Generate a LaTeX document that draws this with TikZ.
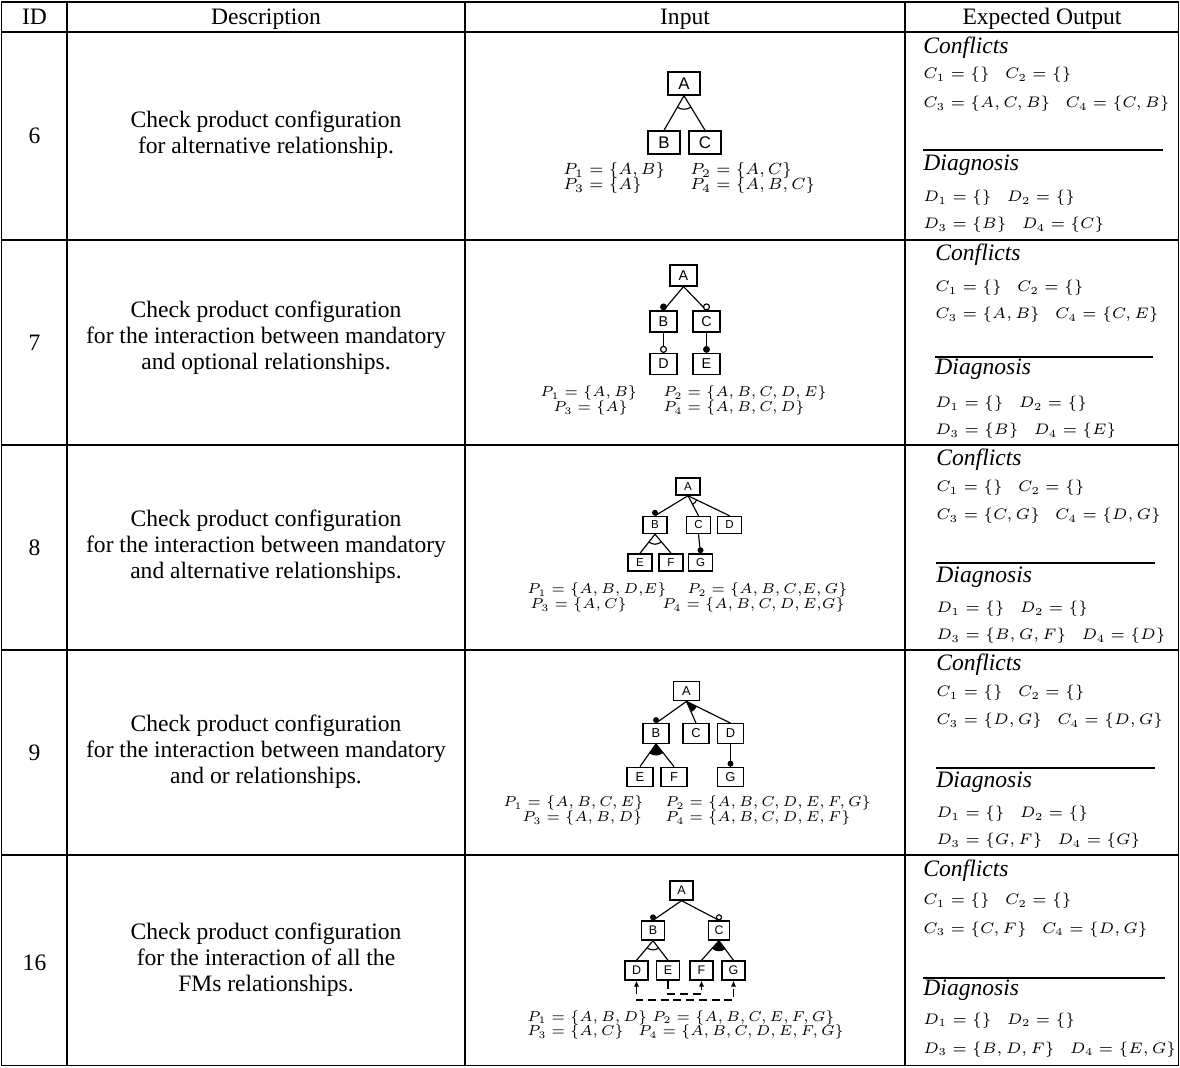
\RequirePackage{fix-cm}
\documentclass[tikz,border=0pt]{standalone}
\usepackage[no-math]{fontspec}
\setmainfont{Liberation Serif}
\setsansfont{Liberation Sans}
\usetikzlibrary{arrows.meta,calc}
\newcommand\fmmand[3]{\fill[black] ($(#1)+(0,-#2)$) circle[radius=#3];}
\newcommand\fmopt[3]{\draw[fl,fill=white] ($(#1)+(0,-#2)$) circle[radius=#3];}
\begin{document}
\begin{tikzpicture}[x=0.433pt,y=-0.433pt,
  tbl/.style={line width=0.5pt},
  hdr/.style={font=\fontsize{10.2}{12}\selectfont, anchor=base, inner sep=0pt},
  idtxt/.style={font=\fontsize{10.2}{12}\selectfont, inner sep=0pt},
  desc/.style={font=\fontsize{10.2}{11.3}\selectfont, align=center, inner sep=0pt},
  captxt/.style={font=\fontsize{10.2}{12}\selectfont\itshape, anchor=base west, inner sep=0pt},
  res/.style={font=\fontsize{6.6}{8}\selectfont, anchor=base west, inner sep=0pt},
  pset/.style={font=\fontsize{6.2}{7}\selectfont, anchor=base west, inner sep=0pt},
  psetl/.style={font=\fontsize{7}{8}\selectfont, anchor=base west, inner sep=0pt},
  rl/.style={line width=0.5pt},
  fl/.style={line width=0.5pt},
  fb/.style={draw, line width=0.6pt, inner sep=0pt, fill=white},
  fbA/.style={fb, minimum width=13.9pt, minimum height=10pt, font=\sffamily\fontsize{7.3}{8}\selectfont},
  fbB/.style={fb, minimum width=11.7pt, minimum height=9pt, font=\sffamily\fontsize{6.2}{7}\selectfont},
  fbC/.style={fb, minimum width=10.4pt, minimum height=7.4pt, font=\sffamily\fontsize{5}{6}\selectfont},
  fbD/.style={fb, minimum width=11.3pt, minimum height=8.4pt, font=\sffamily\fontsize{5.6}{6}\selectfont},
  fbE/.style={fb, minimum width=10pt, minimum height=8.2pt, font=\sffamily\fontsize{5.4}{6}\selectfont},
  dsh/.style={line width=0.5pt, dash pattern=on 3.5pt off 2pt}
]
\useasboundingbox (0,0) rectangle (1180,1068);
% ---------------- table grid
\draw[tbl] (1.5,2) rectangle (1178.5,1065.5);
\foreach \yy in {32,240,445,650,855} \draw[tbl] (1.5,\yy) -- (1178.5,\yy);
\foreach \xx in {67,465,905} \draw[tbl] (\xx,2) -- (\xx,1065.5);
% ---------------- header
\node[hdr] (hID) at (34.5,25) {ID};
\node[hdr] (hDesc) at (266,25) {Description};
\node[hdr] (hIn) at (685,25) {Input};
\node[hdr] (hOut) at (1042,25) {Expected Output};
% ---------------- IDs
\node[idtxt] (id6) at (34.5,136) {6};
\node[idtxt] (id7) at (34.5,343) {7};
\node[idtxt] (id8) at (34.5,548) {8};
\node[idtxt] (id9) at (34.5,753) {9};
\node[idtxt] (id16) at (34.5,963) {16};
% ---------------- descriptions
\node[desc] (ds6) at (266,135) {Check product configuration\\for alternative relationship.};
\node[desc] (ds7) at (266,338) {Check product configuration\\for the interaction between mandatory\\and optional relationships.};
\node[desc] (ds8) at (266,547) {Check product configuration\\for the interaction between mandatory\\and alternative relationships.};
\node[desc] (ds9) at (266,752) {Check product configuration\\for the interaction between mandatory\\and or relationships.};
\node[desc] (ds16) at (266,960) {Check product configuration\\for the interaction of all the\\FMs relationships.};
% ---------------- expected output
% row 6
\node[captxt] (cf6) at (923,54) {Conflicts};
\node[res] (c6a) at (923,79) {$C_1 = \{\}$\quad$C_2 = \{\}$};
\node[res] (c6b) at (923,108) {$C_3 = \{A, C, B\}$\quad$C_4 = \{C, B\}$};
\draw[rl] (923,150) -- (1163,150);
\node[captxt] (dg6) at (923,171) {Diagnosis};
\node[res] (d6a) at (923,202) {$D_1 = \{\}$\quad$D_2 = \{\}$};
\node[res] (d6b) at (923,229) {$D_3 = \{B\}$\quad$D_4 = \{C\}$};
% row 7
\node[captxt] (cf7) at (935,261) {Conflicts};
\node[res] (c7a) at (935,292) {$C_1 = \{\}$\quad$C_2 = \{\}$};
\node[res] (c7b) at (935,319) {$C_3 = \{A, B\}$\quad$C_4 = \{C, E\}$};
\draw[rl] (935,357) -- (1153,357);
\node[captxt] (dg7) at (935,375) {Diagnosis};
\node[res] (d7a) at (935,408) {$D_1 = \{\}$\quad$D_2 = \{\}$};
\node[res] (d7b) at (935,435) {$D_3 = \{B\}$\quad$D_4 = \{E\}$};
% row 8
\node[captxt] (cf8) at (936,466) {Conflicts};
\node[res] (c8a) at (936,492) {$C_1 = \{\}$\quad$C_2 = \{\}$};
\node[res] (c8b) at (936,520) {$C_3 = \{C, G\}$\quad$C_4 = \{D, G\}$};
\draw[rl] (936,563) -- (1155,563);
\node[captxt] (dg8) at (936,583) {Diagnosis};
\node[res] (d8a) at (936,613) {$D_1 = \{\}$\quad$D_2 = \{\}$};
\node[res] (d8b) at (936,640) {$D_3 = \{B, G, F\}$\quad$D_4 = \{D\}$};
% row 9
\node[captxt] (cf9) at (936,671) {Conflicts};
\node[res] (c9a) at (936,697) {$C_1 = \{\}$\quad$C_2 = \{\}$};
\node[res] (c9b) at (936,725) {$C_3 = \{D, G\}$\quad$C_4 = \{D, G\}$};
\draw[rl] (936,768) -- (1155,768);
\node[captxt] (dg9) at (936,788) {Diagnosis};
\node[res] (d9a) at (936,818) {$D_1 = \{\}$\quad$D_2 = \{\}$};
\node[res] (d9b) at (936,845) {$D_3 = \{G, F\}$\quad$D_4 = \{G\}$};
% row 16
\node[captxt] (cf16) at (923,877) {Conflicts};
\node[res] (c16a) at (923,905) {$C_1 = \{\}$\quad$C_2 = \{\}$};
\node[res] (c16b) at (923,933) {$C_3 = \{C, F\}$\quad$C_4 = \{D, G\}$};
\draw[rl] (923,978) -- (1165,978);
\node[captxt] (dg16) at (923,995) {Diagnosis};
\node[res] (d16a) at (923,1024) {$D_1 = \{\}$\quad$D_2 = \{\}$};
\node[res] (d16b) at (923,1053) {$D_3 = \{B, D, F\}$\quad$D_4 = \{E, G\}$};
% ---------------- input: row 6
\node[fbA] (a6) at (684,83.5) {A};
\node[fbA] (b6) at (664,142.5) {B};
\node[fbA] (c6) at (705,142.5) {C};
\draw[fl] (a6.south) -- (b6.north);
\draw[fl] (a6.south) -- (c6.north);
\draw[fl] ($(a6.south)!5.8pt!(b6.north)$) to[bend right=30] ($(a6.south)!5.8pt!(c6.north)$);
\node[psetl] (p6a) at (563,175) {$P_1 = \{A, B\}$};
\node[psetl] (p6b) at (690,175) {$P_2 = \{A, C\}$};
\node[psetl] (p6c) at (563,190) {$P_3 = \{A\}$};
\node[psetl] (p6d) at (690,190) {$P_4 = \{A, B, C\}$};
% ---------------- input: row 7
\node[fbB] (a7) at (683.5,275.5) {A};
\node[fbB] (b7) at (663.5,321.5) {B};
\node[fbB] (c7) at (706.5,321.5) {C};
\node[fbB] (d7) at (663.5,364) {D};
\node[fbB] (e7) at (706.5,364) {E};
\draw[fl] (a7.south) -- (b7.north);
\draw[fl] (a7.south) -- (c7.north);
\draw[fl] (b7.south) -- (d7.north);
\draw[fl] (c7.south) -- (e7.north);
\fmmand{b7.north}{3.5}{1.5pt}
\fmopt{c7.north}{3.5}{1.3pt}
\fmopt{d7.north}{3.5}{1.3pt}
\fmmand{e7.north}{3.5}{1.5pt}
\node[pset] (p7a) at (540,397) {$P_1 = \{A, B\}$};
\node[pset] (p7b) at (663,397) {$P_2 = \{A, B, C, D, E\}$};
\node[pset] (p7c) at (553,412) {$P_3 = \{A\}$};
\node[pset] (p7d) at (663,412) {$P_4 = \{A, B, C, D\}$};
% ---------------- input: row 8
\node[fbC] (a8) at (688,486.5) {A};
\node[fbC] (b8) at (655,525) {B};
\node[fbC] (c8) at (698.5,525) {C};
\node[fbC] (d8) at (729.5,525) {D};
\node[fbC] (e8) at (640,562.5) {E};
\node[fbC] (f8) at (671,562.5) {F};
\node[fbC] (g8) at (700.5,562.5) {G};
\draw[fl] (a8.south) -- (b8.north);
\draw[fl] (a8.south) -- (c8.north);
\draw[fl] (a8.south) -- (d8.north);
\draw[fl] ($(a8.south)!4.2pt!(c8.north)$) to[bend right=18] ($(a8.south)!4.2pt!(d8.north)$);
\draw[fl] (b8.south) -- (e8.north);
\draw[fl] (b8.south) -- (f8.north);
\draw[fl] ($(b8.south)!4.3pt!(e8.north)$) to[bend right=38] ($(b8.south)!4.3pt!(f8.north)$);
\draw[fl] (c8.south) -- (g8.north);
\fmmand{b8.north}{3}{1.3pt}
\fmmand{g8.north}{3}{1.3pt}
\node[pset] (p8a) at (527,594) {$P_1 = \{A, B, D{,}E\}$};
\node[pset] (p8b) at (687,594) {$P_2 = \{A, B, C{,}E, G\}$};
\node[pset] (p8c) at (530,609) {$P_3 = \{A, C\}$};
\node[pset] (p8d) at (662,609) {$P_4 = \{A, B, C, D, E{,}G\}$};
% ---------------- input: row 9
\node[fbD] (a9) at (686.5,691) {A};
\node[fbD] (b9) at (656,733.5) {B};
\node[fbD] (c9) at (696,733.5) {C};
\node[fbD] (d9) at (730.5,733.5) {D};
\node[fbD] (e9) at (640,777) {E};
\node[fbD] (f9) at (674,777) {F};
\node[fbD] (g9) at (730.5,777) {G};
\draw[fl] (a9.south) -- (b9.north);
\draw[fl] (a9.south) -- (c9.north);
\draw[fl] (a9.south) -- (d9.north);
\fill (a9.south) -- ($(a9.south)!5pt!(c9.north)$) to[bend right=20] ($(a9.south)!5pt!(d9.north)$) -- cycle;
\draw[fl] (b9.south) -- (e9.north);
\draw[fl] (b9.south) -- (f9.north);
\fill (b9.south) -- ($(b9.south)!5pt!(e9.north)$) to[bend right=36] ($(b9.south)!5pt!(f9.north)$) -- cycle;
\draw[fl] (d9.south) -- (g9.north);
\fmmand{b9.north}{3}{1.3pt}
\fmmand{g9.north}{3}{1.3pt}
\node[pset] (p9a) at (503,807) {$P_1 = \{A, B, C, E\}$};
\node[pset] (p9b) at (665,807) {$P_2 = \{A, B, C, D, E, F, G\}$};
\node[pset] (p9c) at (522,822) {$P_3 = \{A, B, D\}$};
\node[pset] (p9d) at (665,822) {$P_4 = \{A, B, C, D, E, F\}$};
% ---------------- input: row 16
\node[fbE] (a16) at (681.5,890.5) {A};
\node[fbE] (b16) at (653,930.5) {B};
\node[fbE, minimum width=9.1pt] (c16) at (719,930.5) {C};
\node[fbE] (d16) at (636.5,970.5) {D};
\node[fbE] (e16) at (668,970.5) {E};
\node[fbE] (f16) at (701.5,970.5) {F};
\node[fbE] (g16) at (733.5,970.5) {G};
\draw[fl] (a16.south) -- (b16.north);
\draw[fl] (a16.south) -- (c16.north);
\draw[fl] (b16.south) -- (d16.north);
\draw[fl] (b16.south) -- (e16.north);
\draw[fl] ($(b16.south)!4pt!(d16.north)$) to[bend right=37] ($(b16.south)!4pt!(e16.north)$);
\draw[fl] (c16.south) -- (f16.north);
\draw[fl] (c16.south) -- (g16.north);
\fill (c16.south) -- ($(c16.south)!4.6pt!(f16.north)$) to[bend right=37] ($(c16.south)!4.6pt!(g16.north)$) -- cycle;
\fmmand{b16.north}{3}{1.3pt}
\fmopt{c16.north}{3}{1.1pt}
\coordinate (k1) at (685,1000);
\coordinate (k2) at (685,994);
\draw[dsh, {Latex[length=2.6pt,width=2.3pt]}-{Latex[length=2.6pt,width=2.3pt]}] (d16.south) |- (k1) -| (g16.south);
\draw[dsh, -{Latex[length=2.6pt,width=2.3pt]}] (e16.south) |- (k2) -| (f16.south);
\node[pset] (p16a) at (527,1021) {$P_1 = \{A, B, D\}$};
\node[pset] (p16b) at (652,1021) {$P_2 = \{A, B, C, E, F, G\}$};
\node[pset] (p16c) at (527,1036) {$P_3 = \{A, C\}$};
\node[pset] (p16d) at (638,1036) {$P_4 = \{A, B, C, D, E, F, G\}$};
\end{tikzpicture}
\end{document}
